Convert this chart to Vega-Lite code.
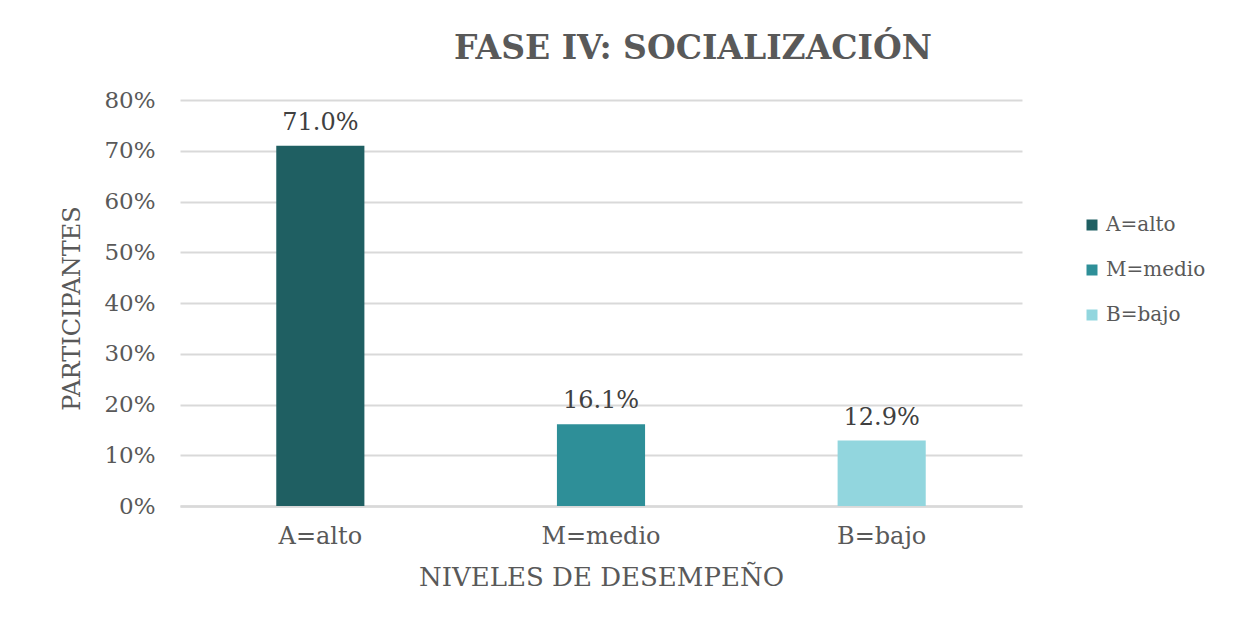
{
  "$schema": "https://vega.github.io/schema/vega-lite/v6.json",
  "autosize": {"type": "none"},
  "padding": {"left": 180, "top": 100, "right": 224, "bottom": 111},
  "width": 842,
  "height": 406,
  "background": "white",
  "config": {"view": {"stroke": null}},
  "title": {
    "text": "FASE IV: SOCIALIZACIÓN",
    "font": "DejaVu Serif",
    "fontSize": 33,
    "fontWeight": "bold",
    "color": "#595959",
    "anchor": "middle",
    "frame": "group",
    "dx": 92,
    "baseline": "middle",
    "offset": 7
  },
  "data": {
    "values": [
      {"nivel": "A=alto", "valor": 0.71, "etiqueta": "71.0%"},
      {"nivel": "M=medio", "valor": 0.161, "etiqueta": "16.1%"},
      {"nivel": "B=bajo", "valor": 0.129, "etiqueta": "12.9%"}
    ]
  },
  "encoding": {
    "x": {
      "field": "nivel",
      "type": "nominal",
      "sort": null,
      "scale": {"paddingInner": 0.686, "paddingOuter": 0.343},
      "axis": {
        "title": "NIVELES DE DESEMPEÑO",
        "labelAngle": 0,
        "labelFont": "DejaVu Serif",
        "labelFontSize": 24,
        "labelColor": "#595959",
        "labelPadding": 18,
        "ticks": false,
        "domain": true,
        "domainColor": "#d9d9d9",
        "domainWidth": 2.5,
        "titleFont": "DejaVu Serif",
        "titleFontSize": 26,
        "titleFontWeight": "normal",
        "titleColor": "#595959",
        "titleY": 71,
        "titleBaseline": "middle"
      }
    },
    "y": {
      "field": "valor",
      "type": "quantitative",
      "scale": {"domain": [0, 0.8], "nice": false},
      "axis": {
        "title": "PARTICIPANTES",
        "values": [0, 0.1, 0.2, 0.3, 0.4, 0.5, 0.6, 0.7, 0.8],
        "format": ".0%",
        "labelFont": "DejaVu Serif",
        "labelFontSize": 23,
        "labelColor": "#595959",
        "labelPadding": 25,
        "ticks": false,
        "domain": false,
        "grid": true,
        "gridColor": "#d9d9d9",
        "gridWidth": 2,
        "titleFont": "DejaVu Serif",
        "titleFontSize": 24,
        "titleFontWeight": "normal",
        "titleColor": "#595959",
        "titleAngle": -90,
        "titleX": -108,
        "titleY": 208,
        "titleAlign": "center",
        "titleBaseline": "middle"
      }
    }
  },
  "layer": [
    {
      "mark": {"type": "bar"},
      "encoding": {
        "color": {
          "field": "nivel",
          "type": "nominal",
          "sort": null,
          "scale": {
            "domain": ["A=alto", "M=medio", "B=bajo"],
            "range": ["#1F5F62", "#2E8F98", "#92D6DE"]
          },
          "legend": {
            "title": null,
            "orient": "none",
            "legendX": 902,
            "legendY": 115,
            "symbolType": "square",
            "symbolSize": 121,
            "symbolStrokeWidth": 0,
            "labelFont": "DejaVu Serif",
            "labelFontSize": 20,
            "labelColor": "#595959",
            "labelOffset": 4,
            "rowPadding": 25
          }
        }
      }
    },
    {
      "mark": {
        "type": "text",
        "baseline": "middle",
        "dy": -23,
        "font": "DejaVu Serif",
        "fontSize": 24,
        "color": "#404040"
      },
      "encoding": {
        "text": {"field": "etiqueta"}
      }
    }
  ]
}
